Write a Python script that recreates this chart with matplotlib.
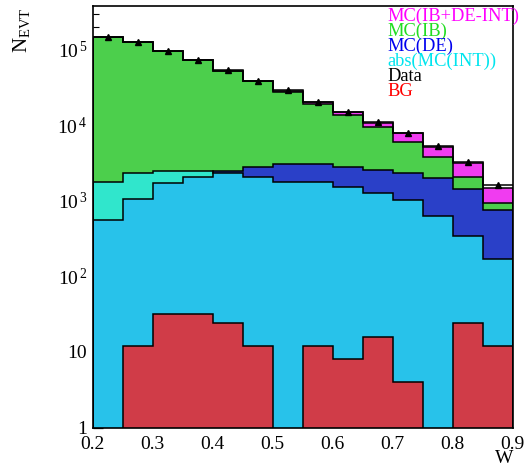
import numpy as np
import matplotlib
matplotlib.use("Agg")
import matplotlib.pyplot as plt
from matplotlib.ticker import LogLocator, FuncFormatter, NullFormatter, MultipleLocator

plt.rcParams['font.family'] = ['Liberation Serif', 'DejaVu Serif']
plt.rcParams['mathtext.fontset'] = 'custom'
plt.rcParams['mathtext.rm'] = 'Liberation Serif'
plt.rcParams['mathtext.it'] = 'Liberation Serif:italic'

# binning in W
bin_edges = [0.2, 0.25, 0.3, 0.35, 0.4, 0.45, 0.5, 0.55, 0.6, 0.65, 0.7, 0.75, 0.8, 0.85, 0.9]

# histogram contents
mc_total = [145600, 126500, 97000, 72200, 53200, 38800, 28900, 20300, 15100, 10900, 7880, 5240, 3210, 1500]
mc_ib = [146800, 127800, 97700, 72570, 53060, 38080, 27630, 19300, 13650, 9550, 6100, 3860, 2100, 950]
mc_de = [560, 1054, 1747, 2100, 2472, 2780, 3060, 3050, 2850, 2550, 2350, 2000, 1430, 760]
mc_int = [1770, 2330, 2472, 2472, 2330, 2060, 1786, 1786, 1532, 1276, 1031, 633, 344, 169]
data = [146000, 127000, 97500, 72500, 53500, 39000, 29100, 20500, 15200, 11000, 7800, 5250, 3230, 1630]
bg = [0, 12, 32, 32, 24, 12, 0, 12, 8, 16, 4, 0, 24, 12]

legend_labels = ['MC(IB+DE-INT)', 'MC(IB)', 'MC(DE)', 'abs(MC(INT))', 'Data', 'BG']
legend_colors = ['#ff00ff', '#22dd22', '#0000ee', '#00e5ee', 'black', '#ff0000']

edges = np.array(bin_edges)
centers = 0.5 * (edges[:-1] + edges[1:])
base = 0.1  # below the visible range on the log axis

def clean(v):
    v = np.asarray(v, dtype=float)
    return np.where(v > 0, v, base)

fig = plt.figure(figsize=(5.25, 4.67), dpi=100)
ax = fig.add_axes([92.7 / 525, 1 - 427.5 / 467, 420 / 525, 421.5 / 467])

lw = 1.1
# fills, drawn on top of each other (not stacked)
ax.stairs(clean(mc_total), edges, baseline=base, fill=True, color='#f03cf0', zorder=1)
ax.stairs(clean(mc_ib), edges, baseline=base, fill=True, color='#4ccf4c', zorder=2)
ax.stairs(clean(mc_de), edges, baseline=base, fill=True, color='#2a40c8', zorder=3)
ax.stairs(clean(mc_int), edges, baseline=base, fill=True, color='#30e6cc', zorder=4)
ax.stairs(clean(np.minimum(mc_int, mc_de)), edges, baseline=base, fill=True, color='#28c2ea', zorder=5)
ax.stairs(clean(bg), edges, baseline=base, fill=True, color='#d03c48', zorder=6)

# outlines
for vals, z in [(mc_total, 7), (mc_ib, 7), (mc_de, 7), (mc_int, 7), (bg, 8)]:
    ax.stairs(clean(vals), edges, baseline=base, fill=False, color='black', lw=lw, zorder=z)

# data
ax.stairs(clean(data), edges, baseline=None, fill=False, color='black', lw=lw, zorder=9)
ax.plot(centers, data, ls='none', marker='^', color='black', ms=5, zorder=10)

ax.set_yscale('log')
ax.set_xlim(0.2, 0.9)
ax.set_ylim(1, 3.8e5)

def ylab(v, pos):
    if v < 1.5:
        return '1'
    if v < 15:
        return '10'
    return r'$\mathregular{10^{\,%d}}$' % int(round(np.log10(v)))

ax.yaxis.set_major_locator(LogLocator(base=10, numticks=10))
ax.yaxis.set_minor_locator(LogLocator(base=10, subs=np.arange(2, 10), numticks=10))
ax.yaxis.set_major_formatter(FuncFormatter(ylab))
ax.yaxis.set_minor_formatter(NullFormatter())
ax.xaxis.set_major_locator(MultipleLocator(0.1))
ax.xaxis.set_major_formatter(FuncFormatter(lambda v, p: '%.1f' % v))

ax.tick_params(axis='y', which='major', direction='in', length=7, width=0.9, labelsize=14, pad=4)
ax.tick_params(axis='y', which='minor', direction='in', length=4, width=0.8)
ax.tick_params(axis='x', which='both', direction='in', length=0, labelsize=14, pad=6)
for t in ax.get_xticklabels():
    t.set_zorder(20)
for s in ax.spines.values():
    s.set_linewidth(1.2)
    s.set_zorder(20)

# axis titles
fig.text(22 / 525, 1 - 8 / 467, r'N$_{\mathregular{EVT}}$', rotation=90, ha='center', va='top', fontsize=15)
fig.text(513 / 525, 1 - 463 / 467, 'W', ha='right', va='baseline', fontsize=14)

# legend as coloured text lines
for i, (lab, col) in enumerate(zip(legend_labels, legend_colors)):
    fig.text(387 / 525, 1 - (20.7 + 15 * i) / 467, lab, color=col, fontsize=13.3, ha='left', va='baseline')

fig.savefig('out.png', dpi=100)
